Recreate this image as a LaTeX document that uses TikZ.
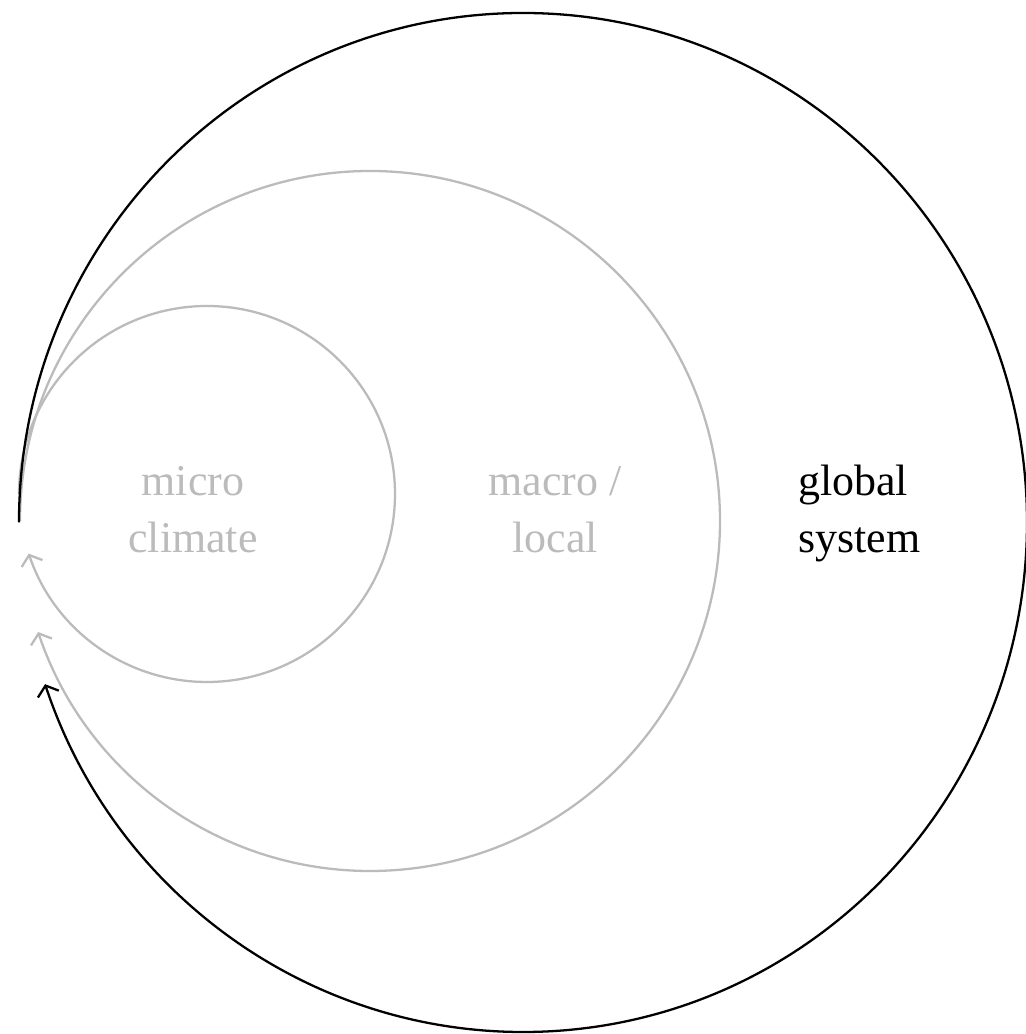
\documentclass[tikz,border=0pt]{standalone}
\usepackage{fontspec}
\setmainfont{Liberation Serif}
\usetikzlibrary{arrows.meta}
\definecolor{cG}{HTML}{BBBBBB}
\tikzset{
  ring/.style={line width=1.3pt,-{Straight Barb[length=1.8mm,width=4.4mm]}},
  faint/.style={ring,draw=cG},
  lbl/.style={font=\fontsize{25}{33}\selectfont,align=center,inner sep=0pt},
}

\begin{document}
\begin{tikzpicture}[x=0.02cm,y=0.02cm]
  \useasboundingbox (0,0) rectangle (1025,1034);
  % start points of the three loops (all on the left)
  \coordinate (microS) at (19,540);
  \coordinate (macroS) at (20,513);
  \coordinate (globalS) at (19,511.5);

  \draw[faint] (microS) arc[start angle=180,end angle=-161.5,radius=188];
  \draw[faint] (macroS) arc[start angle=180,end angle=-161.5,radius=350];
  \draw[ring] (globalS) arc[start angle=180,end angle=-161.5,x radius=504,y radius=509.5];

  \node[lbl,text=cG,anchor=base] (micro) at (193,481) {micro\\climate};
  \node[lbl,text=cG,anchor=base] (macro) at (555,481) {macro /\\local};
  \node[lbl,align=left,anchor=base west] (global) at (798,481) {global\\system};
\end{tikzpicture}
\end{document}
